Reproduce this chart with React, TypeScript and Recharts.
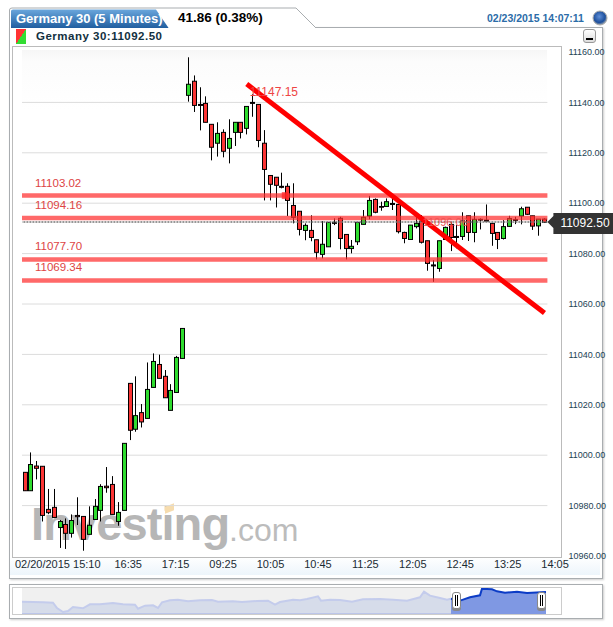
import React from 'react';
import {
  Area,
  AreaChart,
  Bar,
  CartesianGrid,
  ComposedChart,
  ReferenceDot,
  ReferenceLine,
  XAxis,
  YAxis,
} from 'recharts';

// Germany 30 - 5 minute candles, two sessions
const times = [
  '15:10', '15:15', '15:20', '15:25', '15:30', '15:35', '15:40', '15:45', '15:50', '15:55',
  '16:00', '16:05', '16:10', '16:15', '16:20', '16:25', '16:30', '16:35', '16:40', '16:45',
  '16:50', '16:55', '17:00', '17:05', '17:10', '17:15', '17:20', '17:25',
  '09:00', '09:05', '09:10', '09:15', '09:20', '09:25', '09:30', '09:35', '09:40', '09:45',
  '09:50', '09:55', '10:00', '10:05', '10:10', '10:15', '10:20', '10:25', '10:30', '10:35',
  '10:40', '10:45', '10:50', '10:55', '11:00', '11:05', '11:10', '11:15', '11:20', '11:25',
  '11:30', '11:35', '11:40', '11:45', '11:50', '11:55', '12:00', '12:05', '12:10', '12:15',
  '12:20', '12:25', '12:30', '12:35', '12:40', '12:45', '12:50', '12:55', '13:00', '13:05',
  '13:10', '13:15', '13:20', '13:25', '13:30', '13:35', '13:40', '13:45', '13:50', '13:55',
  '14:00', '14:05',
];

const opens = [
  10993.2, 10985.9, 10995.7, 10995.6, 10978.5, 10979.3, 10971.3, 10972.5, 10969, 10976.1,
  10975.7, 10968.6, 10974.5, 10978.1, 10987.7, 10988.4, 10973.7, 10978.1, 11028.5, 11010.3,
  11016.9, 11014.6, 11026.9, 11036, 11031.3, 11017.8, 11024.9, 11038.4,
  11142.8, 11148.4, 11139.2, 11139.6, 11131.3, 11123.8, 11128.1, 11121.8, 11128.1, 11132.1,
  11129.7, 11140, 11139.2, 11123.8, 11111, 11110.3, 11106.7, 11106.7, 11099.1, 11096.8,
  11089.2, 11089.2, 11085.5, 11079.7, 11082.7, 11092.4, 11094, 11087.6, 11082, 11084.7,
  11091.6, 11094.9, 11101.5, 11098.7, 11098.7, 11099.9, 11099.5, 11088.4, 11085.6, 11090.7,
  11092.9, 11085.1, 11075.5, 11074.1, 11085.6, 11091.6, 11086.8, 11086.8, 11095, 11088.4,
  11093.6, 11093.3, 11092, 11088.4, 11086, 11090.8, 11093.5, 11094.9, 11098.4, 11095,
  11091, 11093.7,
];

const closes = [
  10985.9, 10996.3, 10994.8, 10976.1, 10977.2, 10975.3, 10973.7, 10969, 10974.1, 10975.6,
  10966.6, 10972.2, 10979.7, 10987.6, 10987.1, 10976.5, 10977.3, 11004.7, 11009.9, 11015.7,
  11013.2, 11026.1, 11037.2, 11030.5, 11022.8, 11025.7, 11038.8, 11050.3,
  11147.2, 11138.8, 11138.8, 11132.1, 11122.2, 11127.7, 11120.6, 11125.7, 11132.1, 11128.1,
  11138.4, 11139.6, 11124.9, 11113.4, 11107.5, 11107.1, 11106.3, 11101.1, 11094.4, 11089.6,
  11091.2, 11086.4, 11080.5, 11083.7, 11092.4, 11092, 11086, 11082, 11082.9, 11092.4,
  11094.4, 11101.1, 11096.4, 11098.4, 11100.6, 11099.5, 11088.7, 11086, 11091.3, 11092,
  11084.5, 11076.1, 11075.1, 11085.1, 11090.4, 11086.4, 11086.4, 11093, 11088.4, 11093.6,
  11093.3, 11092.9, 11088, 11085.6, 11090.7, 11093.9, 11093.2, 11097.8, 11095.6, 11090.9,
  11093.7, 11092.4,
];

const highs = [
  10993.2, 11001.1, 10997.7, 10995.6, 10986.6, 10986.6, 10974.3, 10974.9, 10976.5, 10983.3,
  10975.7, 10979.7, 10982.6, 10988.5, 10995.3, 10991.7, 10981.4, 11004.7, 11028.5, 11031.3,
  11020.3, 11036.8, 11040.4, 11039.9, 11033.8, 11028.2, 11039.4, 11050.3,
  11157.9, 11150.7, 11146, 11142.4, 11131.3, 11132.1, 11129.3, 11133.3, 11132.1, 11132.1,
  11138.4, 11143.2, 11139.2, 11129, 11111, 11110.3, 11112.1, 11107.9, 11107.9, 11096.8,
  11092, 11095.2, 11085.5, 11092.9, 11092.4, 11094, 11094.6, 11087.6, 11085.4, 11092.4,
  11097.3, 11102.9, 11101.9, 11100.6, 11101.9, 11101.9, 11099.5, 11088.7, 11091.3, 11094.6,
  11095.3, 11085.1, 11077.4, 11085.1, 11090.7, 11092.7, 11091.3, 11096.4, 11095, 11096.4,
  11094, 11099.5, 11092, 11088.4, 11093.3, 11095, 11094.6, 11098.6, 11098.4, 11095,
  11093.7, 11094,
];

const lows = [
  10985.9, 10985.9, 10990.4, 10973.7, 10976.6, 10975.3, 10963.2, 10962.8, 10967.3, 10972.3,
  10962.1, 10968.6, 10974.3, 10973.7, 10985.1, 10976.5, 10972, 10978.1, 11006, 11009.3,
  11011, 11014.6, 11026.9, 11030.5, 11022.8, 11017.8, 11024.9, 11038.4,
  11140.3, 11136.2, 11128.9, 11132.1, 11117, 11118.5, 11118.2, 11115.8, 11122.7, 11125.7,
  11127.3, 11134.3, 11122.2, 11101.1, 11101.1, 11098.3, 11105.9, 11094.9, 11092, 11087.2,
  11085.3, 11084.9, 11077.7, 11078.1, 11082.7, 11091.3, 11081.7, 11077.7, 11080.1, 11083.4,
  11091.6, 11093.6, 11096, 11097, 11098.6, 11097.3, 11088, 11084.1, 11085.4, 11090,
  11084, 11073.2, 11068.8, 11072.8, 11085.4, 11081, 11082.1, 11085.4, 11085, 11084.5,
  11089.6, 11092.7, 11083.1, 11081.8, 11085.6, 11090.7, 11091.7, 11091.6, 11095.3, 11089.4,
  11087.1, 11092.4,
];

const priceTicks = [11160, 11140, 11120, 11100, 11080, 11060, 11040, 11020, 11000, 10980, 10960];
const gridValues = [11140, 11120, 11100, 11080, 11060, 11040, 11020, 11000, 10980];
const tickLabels = ['15:10', '16:35', '17:15', '09:25', '10:05', '10:45', '11:25', '12:05', '12:45', '13:25', '14:05'];

const levels = [11103.02, 11094.16, 11077.7, 11069.34];
const levelLabels = ['11103.02', '11094.16', '11077.70', '11069.34'];
const lastPrice = 11092.5;

// navigator strip, whole history
const navPos = [
  0, 11, 21, 31, 35, 41, 46, 51, 61, 68, 78, 91, 101, 113, 116, 123, 131, 136, 140, 148,
  156, 166, 178, 190, 196, 211, 220, 235, 246, 253, 258, 271, 278, 285, 296, 299, 308, 318, 330, 341,
  358, 371, 385, 398, 402, 408, 418, 425, 429, 439, 448, 458, 460, 470, 475, 483, 495, 505, 524,
];
const navLevel = [
  37, 36, 35, 34, 18, 6, 9, 21, 17, 29, 29, 33, 29, 28, 16, 25, 26, 18, 35, 41,
  43, 38, 41, 42, 37, 38, 36, 39, 40, 28, 36, 43, 41, 45, 53, 40, 43, 42, 37, 44,
  45, 43, 40, 50, 67, 55, 48, 43, 46, 41, 50, 56, 76, 74, 68, 64, 67, 63, 66,
];
const navSplit = 429;

const candleData = times.map((t, i) => ({
  t,
  range: [lows[i], highs[i]],
  open: opens[i],
  close: closes[i],
}));

const navData = navPos.map((pos, i) => ({
  pos,
  past: pos <= navSplit ? navLevel[i] : null,
  recent: pos >= navSplit ? navLevel[i] : null,
}));

const Candle = (props: any) => {
  const { x, y, width, height, payload } = props;
  const [low, high] = payload.range;
  const toY = (v: number) => y + ((high - v) / (high - low)) * height;
  const cx = Math.round(x + width / 2) + 0.5;
  const top = toY(Math.max(payload.open, payload.close));
  const bottom = toY(Math.min(payload.open, payload.close));
  const up = payload.close >= payload.open;
  return (
    <g>
      <line x1={cx} x2={cx} y1={y} y2={y + height} stroke="#000" strokeWidth={1} />
      <rect
        x={cx - 2}
        y={top}
        width={4}
        height={Math.max(bottom - top, 0.5)}
        fill={up ? '#2fdc2f' : '#fb3535'}
        stroke="#000"
        strokeWidth={1}
      />
    </g>
  );
};

const TimeTick = (props: any) => {
  const { x, y, payload } = props;
  const i = tickLabels.indexOf(payload.value);
  const base = { y: y + 4, fontSize: 11, fill: '#1b2b33', fontFamily: 'Liberation Sans' };
  if (i === 0) {
    return (
      <text {...base} x={x - 10} textAnchor="start">
        02/20/2015 {payload.value}
      </text>
    );
  }
  return (
    <text {...base} x={x + 3.3 + i * 0.73} textAnchor="middle">
      {payload.value}
    </text>
  );
};

const PriceTag = (props: any) => {
  const { x, width, y } = props.viewBox;
  const left = x + width + 6;
  return (
    <g>
      <path
        d={`M${left - 6} ${y} L${left} ${y - 6} V${y - 9} H613 V${y + 12} H${left} V${y + 6} Z`}
        fill="#333"
      />
      <text x={left + 7} y={y + 5} fontSize={12} fill="#fff" fontFamily="Liberation Sans">
        {lastPrice.toFixed(2)}
      </text>
    </g>
  );
};

const box = (style: React.CSSProperties): React.CSSProperties => ({ position: 'absolute', ...style });

export default function App() {
  return (
    <div style={box({ left: 0, top: 0, width: 613, height: 627, overflow: 'hidden', background: '#fff', fontFamily: 'Liberation Sans' })}>
      {/* outer frame and tab */}
      <div style={box({ left: 9, top: 27, width: 592, height: 550, border: '1px solid #a9adb0', boxShadow: '1px 1px 2px #ccc' })} />
      <svg width={613} height={30} style={box({ left: 0, top: 0 })}>
        <defs>
          <linearGradient id="tabBlue" x1="0" y1="0" x2="0" y2="1">
            <stop offset="0" stopColor="#6aa6dc" />
            <stop offset="1" stopColor="#0d4b8f" />
          </linearGradient>
          <radialGradient id="globe" cx="0.45" cy="0.4" r="0.6">
            <stop offset="0" stopColor="#5f8fd8" />
            <stop offset="0.7" stopColor="#1d4f9c" />
            <stop offset="1" stopColor="#9aa4ad" />
          </radialGradient>
        </defs>
        <path d="M9.5 28 V10 Q9.5 8 12 8 H296 L316 28" fill="#fff" stroke="#a9adb0" />
        <path d="M11 28 V11 Q11 9.5 13 9.5 H156 L172 33 H11 Z" fill="url(#tabBlue)" />
        <rect x={11} y={28} width={305} height={2} fill="#fff" />
        <circle cx={600} cy={18} r={7} fill="url(#globe)" stroke="#aaa" />
      </svg>
      <div style={box({ left: 16, top: 10, width: 155, height: 18, color: '#fff', fontSize: 13, fontWeight: 700, whiteSpace: 'nowrap', lineHeight: '18px' })}>
        Germany 30 (5 Minutes)
      </div>
      <div style={box({ left: 178, top: 9, color: '#000', fontSize: 13.5, fontWeight: 700, lineHeight: '18px', whiteSpace: 'nowrap' })}>
        41.86 (0.38%)
      </div>
      <div style={box({ left: 487, top: 11, color: '#2b6ca8', fontSize: 10.5, fontWeight: 700, lineHeight: '14px', whiteSpace: 'nowrap' })}>
        02/23/2015 14:07:11
      </div>

      {/* legend row */}
      <div style={box({ left: 16, top: 29, width: 10, height: 15, background: 'linear-gradient(to bottom right, #f33 50%, #3d3 50%)' })} />
      <div style={box({ left: 36, top: 29, color: '#123040', fontSize: 11.5, fontWeight: 700, lineHeight: '14px', letterSpacing: 0.5, whiteSpace: 'nowrap' })}>
        Germany 30:11092.50
      </div>
      <div style={box({ left: 583, top: 29, width: 11, height: 12, border: '1px solid #999', borderRadius: 3, background: 'linear-gradient(#fff,#ddd)' })}>
        <div style={box({ left: 2, top: 8, width: 7, height: 2, background: '#000' })} />
      </div>

      {/* plot box */}
      <div style={box({ left: 10, top: 557, width: 590, height: 18, background: 'linear-gradient(#fff,#edf5fb)' })} />
      <div style={box({ left: 12, top: 46, width: 548, height: 510, border: '1px solid #bbb', background: '#fff' })} />
      <div style={box({ left: 22, top: 50, width: 525, height: 506, background: 'linear-gradient(#f6f6f6 0, #fcfcfc 12px, #fff 60px)' })} />

      {/* watermark sits under the candles */}
      <div style={box({ left: 31, top: 496, color: '#b6b6b6', fontSize: 47, fontWeight: 700, lineHeight: '56px', letterSpacing: -0.9, whiteSpace: 'nowrap' })}>
        Investing
      </div>
      <div style={box({ left: 229, top: 510, color: '#bcbcbc', fontSize: 32, lineHeight: '40px', whiteSpace: 'nowrap' })}>.com</div>
      <div style={box({ left: 165, top: 505, width: 9, height: 7, background: '#f6dcae', transform: 'skewY(-20deg)' })} />

      <div style={box({ left: 0, top: 0 })}>
        <ComposedChart
          width={613}
          height={627}
          data={candleData}
          margin={{ top: 52, right: 0, bottom: 51, left: 22 }}
        >
          <CartesianGrid vertical={false} stroke="#dcdcdc" horizontalValues={gridValues} />
          <XAxis
            dataKey="t"
            ticks={tickLabels}
            interval={0}
            height={20}
            axisLine={false}
            tickLine={false}
            tick={<TimeTick />}
          />
          <YAxis
            orientation="right"
            domain={[10960, 11160]}
            ticks={priceTicks}
            width={65.6}
            axisLine={false}
            tickLine={false}
            tickMargin={15}
            tick={{ fontSize: 9, fill: '#1c4254', fontFamily: 'Liberation Sans' }}
            tickFormatter={(v: number) => v.toFixed(2)}
          />
          <ReferenceLine y={lastPrice} stroke="#777" strokeDasharray="2 1" strokeWidth={1.5} label={<PriceTag />} />
          <Bar dataKey="range" barSize={5} shape={<Candle />} isAnimationActive={false} />
          {levels.map((level, i) => (
            <ReferenceLine
              key={level}
              y={level}
              stroke="#ff2f2f"
              strokeOpacity={0.72}
              strokeWidth={4.5}
              label={{
                value: levelLabels[i],
                position: 'insideBottomLeft',
                dx: 8,
                dy: -4,
                fontSize: 11.5,
                fill: '#dd4444',
                fontFamily: 'Liberation Sans',
              }}
            />
          ))}
          <ReferenceDot
            x="10:20"
            y={levels[0]}
            r={0}
            shape={(p: any) => <rect x={p.cx} y={p.cy - 3.5} width={6} height={7} fill="#ff2020" fillOpacity={0.7} />}
          />
          <ReferenceDot
            x="12:40"
            y={lastPrice}
            r={0}
            shape={(p: any) => (
              <text x={p.cx} y={p.cy + 4} fontSize={11} fill="#ee5555" textAnchor="middle" fontFamily="Liberation Sans">
                11096.06
              </text>
            )}
          />
          <ReferenceLine
            segment={[
              { x: '09:50', y: 11147.3 },
              { x: '14:05', y: 11056.4 },
            ]}
            stroke="#ff0000"
            strokeWidth={5}
          />
          <ReferenceDot
            x="09:50"
            y={11147.15}
            r={0}
            shape={(p: any) => (
              <text x={p.cx + 3} y={p.cy + 12} fontSize={12} fill="#ee4444" fontFamily="Liberation Sans">
                11147.15
              </text>
            )}
          />
        </ComposedChart>
      </div>

      {/* navigator */}
      <div style={box({ left: 9, top: 584, width: 592, height: 33, border: '1px solid #a9adb0', boxShadow: '1px 1px 2px #ccc' })} />
      <div style={box({ left: 12, top: 587, width: 548, height: 26, border: '1px solid #ccc' })} />
      <div style={box({ left: 22, top: 588, width: 429, height: 26, background: '#f0f0f0' })} />
      <div style={box({ left: 22, top: 588 })}>
        <AreaChart width={524} height={26} data={navData} margin={{ top: 0, right: 0, bottom: 0, left: 0 }}>
          <XAxis dataKey="pos" type="number" domain={[0, 524]} hide />
          <YAxis domain={[0, 78]} hide />
          <Area dataKey="past" type="linear" stroke="#c4ccec" strokeWidth={2} fill="#d6dcea" fillOpacity={1} isAnimationActive={false} />
          <Area dataKey="recent" type="linear" stroke="#0c3cc6" strokeWidth={2} fill="#7f98e3" fillOpacity={1} isAnimationActive={false} />
        </AreaChart>
      </div>
      <div style={box({ left: 22, top: 613, width: 429, height: 1, background: '#bcc6ea' })} />
      {[452, 537].map((left) => (
        <div
          key={left}
          style={box({
            left,
            top: 592,
            width: 7,
            height: 15,
            border: '1px solid #888',
            borderRadius: 3,
            background: '#fff',
            boxShadow: '0 2px 0 #888',
          })}
        >
          <div style={box({ left: 2, top: 2, width: 3, height: 11, borderLeft: '1px solid #000', borderRight: '1px solid #000', boxSizing: 'border-box' })} />
        </div>
      ))}
    </div>
  );
}
